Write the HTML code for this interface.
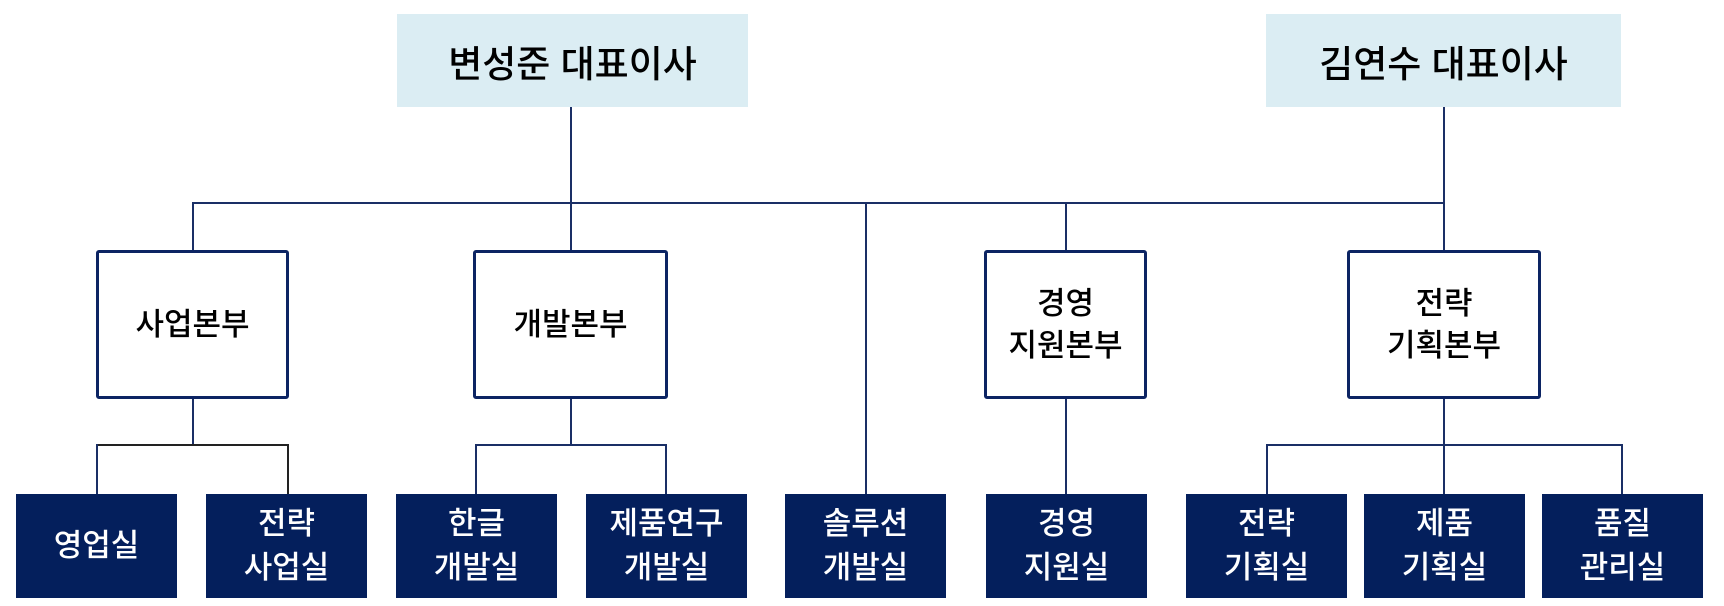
<!DOCTYPE html>
<html><head><meta charset="utf-8"><style>
body{margin:0;width:1724px;height:606px;background:#fff;position:relative;overflow:hidden;font-family:"Liberation Sans","Noto Sans CJK KR","NanumGothic",sans-serif;}
div{position:absolute;box-sizing:border-box;}
.top{background:#dbedf3;color:#000;font-size:37px;font-weight:500;display:flex;align-items:center;justify-content:center;}
.mid{background:#fff;border:3px solid #0c2463;border-radius:3px;color:#000;font-size:31px;font-weight:500;line-height:42px;display:flex;align-items:center;justify-content:center;text-align:center;}
.bot{background:#041f5c;color:#fff;font-size:31px;font-weight:500;line-height:44px;display:flex;align-items:center;justify-content:center;text-align:center;}
.h{height:2px;background:#1a2f66;}
.v{width:2px;background:#1a2f66;}
</style></head><body>
<!-- lines -->
<div class="v" style="left:570px;top:107px;height:145px"></div>
<div class="v" style="left:1443px;top:107px;height:145px"></div>
<div class="h" style="left:192px;top:202px;width:1253px"></div>
<div class="v" style="left:192px;top:202px;height:50px"></div>
<div class="v" style="left:865px;top:202px;height:293px"></div>
<div class="v" style="left:1065px;top:202px;height:50px"></div>

<div class="v" style="left:192px;top:398px;height:46px"></div>
<div class="h" style="left:96px;top:444px;width:193px;background:#222"></div>
<div class="v" style="left:96px;top:444px;height:51px"></div>
<div class="v" style="left:287px;top:444px;height:51px;background:#222"></div>

<div class="v" style="left:570px;top:398px;height:46px"></div>
<div class="h" style="left:475px;top:444px;width:192px"></div>
<div class="v" style="left:475px;top:444px;height:51px"></div>
<div class="v" style="left:665px;top:444px;height:51px"></div>

<div class="v" style="left:1065px;top:398px;height:97px"></div>

<div class="v" style="left:1443px;top:398px;height:97px"></div>
<div class="h" style="left:1266px;top:444px;width:357px"></div>
<div class="v" style="left:1266px;top:444px;height:51px"></div>
<div class="v" style="left:1621px;top:444px;height:51px"></div>

<!-- top -->
<div class="top" style="left:397px;top:14px;width:351px;height:93px">변성준 대표이사</div>
<div class="top" style="left:1266px;top:14px;width:355px;height:93px">김연수 대표이사</div>

<!-- mid -->
<div class="mid" style="left:96px;top:250px;width:193px;height:149px">사업본부</div>
<div class="mid" style="left:473px;top:250px;width:195px;height:149px">개발본부</div>
<div class="mid" style="left:984px;top:250px;width:163px;height:149px">경영<br>지원본부</div>
<div class="mid" style="left:1347px;top:250px;width:194px;height:149px">전략<br>기획본부</div>

<!-- bottom -->
<div class="bot" style="left:16px;top:494px;width:161px;height:104px">영업실</div>
<div class="bot" style="left:206px;top:494px;width:161px;height:104px">전략<br>사업실</div>
<div class="bot" style="left:396px;top:494px;width:161px;height:104px">한글<br>개발실</div>
<div class="bot" style="left:586px;top:494px;width:161px;height:104px">제품연구<br>개발실</div>
<div class="bot" style="left:785px;top:494px;width:161px;height:104px">솔루션<br>개발실</div>
<div class="bot" style="left:986px;top:494px;width:161px;height:104px">경영<br>지원실</div>
<div class="bot" style="left:1186px;top:494px;width:161px;height:104px">전략<br>기획실</div>
<div class="bot" style="left:1364px;top:494px;width:161px;height:104px">제품<br>기획실</div>
<div class="bot" style="left:1542px;top:494px;width:161px;height:104px">품질<br>관리실</div>
</body></html>
